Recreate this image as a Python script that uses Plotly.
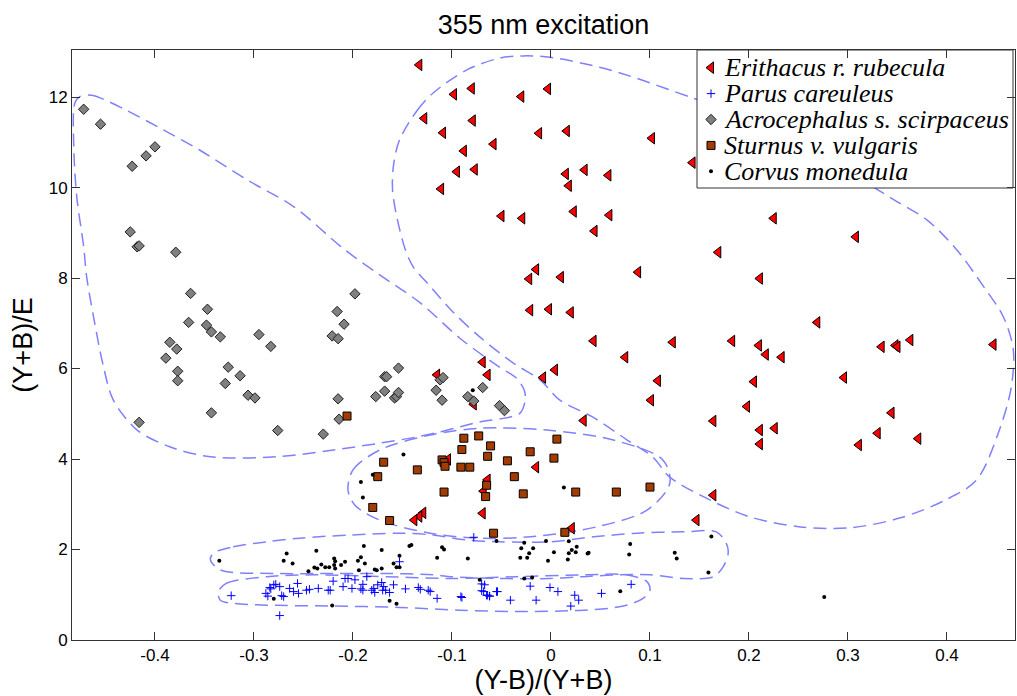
import plotly.graph_objects as go

# ---- species measurements: x = (Y-B)/(Y+B), y = (Y+B)/E ----
erithacus_x = [-0.133, -0.080, -0.098, -0.003, -0.030, -0.128, -0.079, -0.109, -0.012, 0.016,
               0.102, 0.143, -0.058, -0.088, -0.095, -0.077, -0.111, 0.015, 0.034, 0.058,
               0.018, -0.050, -0.029, 0.023, 0.059, 0.044, 0.225, 0.308, 0.169, -0.015,
               -0.022, 0.010, 0.088, 0.211, -0.021, -0.002, 0.020, 0.269, 0.043, 0.123,
               0.183, 0.210, 0.217, 0.233, 0.075, 0.334, 0.348, 0.350, 0.363, 0.447,
               0.108, 0.205, 0.296, 0.101, 0.198, 0.033, 0.164, 0.211, 0.226, 0.211,
               0.344, 0.330, 0.371, 0.311, 0.004, -0.008, -0.069, -0.064, -0.115, -0.078,
               -0.015, -0.104, -0.064, -0.068, -0.069, -0.129, -0.133, -0.138, 0.021, 0.164,
               0.147]
erithacus_y = [12.71, 12.19, 12.06, 12.18, 12.01, 11.53, 11.48, 11.21, 11.20, 11.25,
               11.09, 10.55, 10.96, 10.81, 10.35, 10.40, 9.97, 10.30, 10.39, 10.27,
               10.04, 9.37, 9.32, 9.47, 9.39, 9.04, 9.32, 8.91, 8.57, 8.19,
               7.98, 8.02, 8.13, 7.99, 7.29, 7.31, 7.24, 7.02, 6.61, 6.58,
               6.61, 6.51, 6.31, 6.25, 6.25, 6.48, 6.51, 6.48, 6.63, 6.53,
               5.73, 5.71, 5.80, 5.30, 5.16, 4.85, 4.84, 4.64, 4.68, 4.33,
               5.02, 4.57, 4.45, 4.31, 5.97, 5.80, 6.14, 5.86, 5.86, 5.21,
               3.82, 3.99, 3.54, 3.29, 2.80, 2.81, 2.73, 2.65, 2.47, 3.20,
               2.65]

parus_x = [-0.078, -0.153, -0.323, -0.274, -0.288, -0.286, -0.284, -0.283, -0.280, -0.278,
           -0.274, -0.272, -0.270, -0.264, -0.260, -0.256, -0.255, -0.247, -0.244, -0.235,
           -0.225, -0.223, -0.220, -0.210, -0.208, -0.205, -0.201, -0.198, -0.192, -0.190,
           -0.190, -0.186, -0.181, -0.179, -0.178, -0.175, -0.171, -0.170, -0.169, -0.167,
           -0.163, -0.159, -0.147, -0.134, -0.132, -0.124, -0.122, -0.115, -0.090, -0.070,
           -0.068, -0.064, -0.062, -0.055, -0.067, -0.070, -0.065, -0.062, -0.054, -0.091,
           -0.041, -0.021, -0.015, -0.001, 0.007, 0.024, 0.028, 0.020, 0.051, 0.081]
parus_y = [2.27, 1.73, 0.98, 0.54, 1.03, 0.97, 1.16, 1.13, 1.22, 1.23,
           1.18, 0.98, 0.96, 1.14, 1.07, 1.25, 1.03, 1.10, 1.12, 1.14,
           1.10, 1.10, 1.30, 1.18, 1.36, 1.36, 1.14, 1.33, 1.13, 1.23,
           1.10, 1.40, 1.10, 1.14, 1.05, 1.22, 1.27, 1.10, 1.18, 1.10,
           1.05, 1.22, 1.13, 1.16, 1.12, 1.10, 1.07, 0.92, 0.94, 1.24,
           1.07, 0.99, 0.97, 1.07, 1.22, 1.09, 0.99, 0.97, 1.07, 0.96,
           0.88, 1.19, 0.88, 1.16, 1.07, 0.99, 0.88, 0.75, 1.03, 1.23]

acro_x = [-0.472, -0.455, -0.423, -0.409, -0.400, -0.425, -0.418, -0.416, -0.379,
          -0.364, -0.366, -0.347, -0.348, -0.343, -0.334, -0.385, -0.378, -0.389, -0.377,
          -0.377, -0.326, -0.329, -0.314, -0.306, -0.299, -0.295, -0.283, -0.343, -0.416,
          -0.276, -0.230, -0.216, -0.209, -0.198, -0.221, -0.215, -0.215, -0.214,
          -0.154, -0.168, -0.166, -0.168, -0.177, -0.158, -0.156, -0.154, -0.116, -0.110,
          -0.112, -0.109, -0.069, -0.084, -0.078, -0.052, -0.047]
acro_y = [11.73, 11.40, 10.47, 10.70, 10.90, 9.02, 8.69, 8.71, 8.57,
          7.66, 7.02, 7.31, 6.96, 6.81, 6.70, 6.58, 6.43, 6.23, 5.94,
          5.73, 6.03, 5.67, 5.84, 5.41, 5.35, 6.75, 6.49, 5.02, 4.81,
          4.63, 4.55, 7.26, 6.98, 7.65, 6.72, 6.66, 5.33, 4.88,
          6.01, 5.82, 5.82, 5.50, 5.38, 5.35, 5.38, 5.47, 5.52, 5.30,
          5.75, 5.80, 5.58, 5.38, 5.28, 5.18, 5.07]

sturnus_x = [-0.206, -0.088, -0.073, -0.061, -0.090, -0.064, -0.021, 0.006, 0.003, -0.044,
             -0.110, -0.108, -0.107, -0.091, -0.082, -0.169, -0.135, -0.175, -0.037, -0.065,
             -0.108, -0.066, -0.028, 0.025, 0.066, 0.100, -0.180, -0.163, -0.058, 0.014]
sturnus_y = [4.95, 4.46, 4.51, 4.29, 4.21, 4.06, 4.16, 4.44, 4.02, 3.96,
             3.98, 3.92, 3.84, 3.82, 3.82, 3.93, 3.76, 3.61, 3.61, 3.42,
             3.27, 3.17, 3.23, 3.27, 3.27, 3.38, 2.93, 2.64, 2.36, 2.38]

corvus_x = [-0.335, -0.267, -0.270, -0.261, -0.237, -0.245, -0.239, -0.236, -0.232, -0.228,
            -0.224, -0.219, -0.218, -0.219, -0.218, -0.212, -0.208, -0.189, -0.192, -0.195,
            -0.188, -0.194, -0.171, -0.178, -0.176, -0.171, -0.153, -0.159, -0.156, -0.153,
            -0.143, -0.141, -0.110, -0.108, -0.115, -0.084, -0.055, -0.072, -0.280, -0.221,
            -0.163, -0.156, -0.027, -0.030, -0.018, -0.022, -0.031, -0.024, -0.005, 0.003,
            -0.003, 0.018, 0.026, 0.021, 0.018, 0.025, 0.017, 0.038, 0.037, 0.080,
            0.079, 0.125, 0.127, 0.162, 0.159, -0.027, -0.019, 0.070, 0.276, -0.149,
            -0.192, -0.190, -0.180, 0.013, -0.079]
corvus_y = [1.75, 1.91, 1.75, 1.69, 1.97, 1.52, 1.60, 1.58, 1.67, 1.61,
            1.61, 1.80, 1.74, 1.66, 1.58, 1.66, 1.73, 2.08, 1.83, 1.75,
            1.69, 1.54, 1.99, 1.56, 1.54, 1.58, 1.86, 1.69, 1.61, 1.61,
            2.08, 2.10, 2.05, 2.00, 1.82, 1.80, 2.19, 1.33, 0.91, 0.76,
            0.87, 0.80, 2.15, 2.03, 2.03, 1.92, 1.82, 1.82, 2.19, 1.94,
            1.75, 2.18, 2.06, 1.99, 1.92, 1.94, 1.78, 1.93, 1.91, 2.12,
            1.89, 1.93, 1.80, 2.29, 1.49, 1.36, 1.38, 1.08, 0.95, 4.10,
            3.49, 3.15, 3.65, 3.37, 5.52]

# ---- hand-drawn group outlines (data coordinates) ----
acro_hull_x = [-0.476, -0.464, -0.454, -0.429, -0.397, -0.355, -0.307, -0.260, -0.208, -0.173,
               -0.132, -0.092, -0.052, -0.035, -0.027, -0.026, -0.031, -0.041, -0.072, -0.092,
               -0.112, -0.135, -0.173, -0.220, -0.277, -0.344, -0.385, -0.418, -0.442, -0.452,
               -0.462, -0.469, -0.472, -0.479, -0.482, -0.481, -0.476]
acro_hull_y = [12.01, 12.04, 11.97, 11.71, 11.34, 10.83, 10.17, 9.58, 8.62, 8.07,
               7.45, 6.67, 6.03, 5.79, 5.52, 5.30, 5.02, 4.93, 4.82, 4.71,
               4.60, 4.49, 4.35, 4.20, 4.05, 4.05, 4.27, 4.64, 5.30, 6.04,
               7.14, 8.03, 8.69, 9.80, 10.90, 11.86, 12.01]

eri_hull_x = [-0.153, -0.135, -0.119, -0.085, -0.052, -0.028, -0.001, 0.049, 0.083, 0.143,
              0.201, 0.272, 0.322, 0.347, 0.380, 0.410, 0.437, 0.457, 0.467, 0.465,
              0.454, 0.430, 0.398, 0.353, 0.302, 0.252, 0.201, 0.161, 0.120, 0.103,
              0.077, 0.042, 0.009, -0.011, -0.038, -0.072, -0.099, -0.125, -0.139, -0.147,
              -0.155, -0.160, -0.159, -0.153]
eri_hull_y = [11.05, 11.71, 12.09, 12.60, 12.86, 12.91, 12.88, 12.66, 12.44, 11.98,
              11.54, 10.72, 10.06, 9.72, 9.28, 8.62, 7.81, 7.14, 6.41, 5.60,
              4.71, 3.54, 3.09, 2.70, 2.48, 2.50, 2.72, 3.09, 3.60, 4.04,
              4.42, 4.93, 5.30, 5.75, 6.12, 6.70, 7.25, 7.89, 8.24, 8.62,
              9.28, 9.94, 10.50, 11.05]

stu_hull_x = [-0.205, -0.200, -0.173, -0.122, -0.072, -0.004, 0.063, 0.113, 0.120, 0.097,
              0.046, -0.021, -0.072, -0.122, -0.173, -0.198, -0.205]
stu_hull_y = [3.31, 3.76, 4.20, 4.53, 4.68, 4.64, 4.42, 3.98, 3.46, 2.87,
              2.50, 2.28, 2.25, 2.36, 2.65, 2.98, 3.31]

cor_hull_x = [-0.341, -0.321, -0.287, -0.254, -0.203, -0.153, -0.119, -0.085, -0.052, -0.001,
              0.043, 0.087, 0.134, 0.167, 0.177, 0.179, 0.174, 0.164, 0.134, 0.100,
              0.066, 0.033, -0.001, -0.052, -0.102, -0.119, -0.166, -0.220, -0.277, -0.334,
              -0.344, -0.341]
cor_hull_y = [1.92, 2.06, 2.17, 2.25, 2.32, 2.36, 2.32, 2.21, 2.17, 2.17,
              2.28, 2.36, 2.39, 2.39, 2.14, 1.92, 1.62, 1.40, 1.36, 1.44,
              1.44, 1.40, 1.36, 1.36, 1.40, 1.44, 1.47, 1.47, 1.47, 1.55,
              1.77, 1.92]

par_hull_x = [-0.336, -0.328, -0.287, -0.237, -0.153, -0.102, -0.035, 0.033, 0.076, 0.097,
              0.100, 0.093, 0.073, 0.033, -0.035, -0.092, -0.153, -0.220, -0.287, -0.321,
              -0.334, -0.336]
par_hull_y = [1.07, 1.25, 1.40, 1.44, 1.39, 1.36, 1.40, 1.44, 1.44, 1.29,
              1.10, 0.92, 0.75, 0.66, 0.63, 0.66, 0.72, 0.75, 0.77, 0.81,
              0.88, 1.07]

x_ticks = [-0.4, -0.3, -0.2, -0.1, 0, 0.1, 0.2, 0.3, 0.4]
x_tick_text = ["-0.4", "-0.3", "-0.2", "-0.1", "0", "0.1", "0.2", "0.3", "0.4"]
y_ticks = [0, 2, 4, 6, 8, 10, 12]

species_names = ["Erithacus r. rubecula", "Parus careuleus", "Acrocephalus s. scirpaceus",
                 "Sturnus v. vulgaris", "Corvus monedula"]

# ---- figure geometry (pixels) ----
W, H = 1017, 696
M_L, M_R, M_T, M_B = 72, 2, 50, 56
PLOT_W = W - M_L - M_R
PLOT_H = H - M_T - M_B


def px_to_frac_x(px):
    return (px - M_L) / PLOT_W


def px_to_frac_y(py):
    return (H - M_B - py) / PLOT_H


markers = [
    dict(symbol="triangle-left", size=10, color="#ff0000", line=dict(color="#000000", width=1)),
    dict(symbol="cross-thin", size=6, color="#0000ff", line=dict(color="#0000ff", width=1)),
    dict(symbol="diamond", size=8, color="#808080", line=dict(color="#202020", width=1)),
    dict(symbol="square", size=8, color="#a33c00", line=dict(color="#000000", width=1)),
    dict(symbol="circle", size=4, color="#000000", line=dict(width=0)),
]

fig = go.Figure()

hull_line = dict(color="#8080ff", width=1.5, dash="13px,7px", shape="spline", smoothing=0.9)
for hx, hy in [(acro_hull_x, acro_hull_y), (eri_hull_x, eri_hull_y), (stu_hull_x, stu_hull_y),
               (cor_hull_x, cor_hull_y), (par_hull_x, par_hull_y)]:
    fig.add_trace(go.Scatter(x=hx, y=hy, mode="lines", line=hull_line,
                             showlegend=False, hoverinfo="skip"))

series = [(erithacus_x, erithacus_y), (parus_x, parus_y), (acro_x, acro_y),
          (sturnus_x, sturnus_y), (corvus_x, corvus_y)]
for (sx, sy), name, mk in zip(series, species_names, markers):
    fig.add_trace(go.Scatter(x=sx, y=sy, mode="markers", name=name, marker=mk,
                             showlegend=False))

# ---- legend box drawn on an overlay axis spanning the plot area ----
box_l, box_r = px_to_frac_x(697), px_to_frac_x(1013)
box_t, box_b = px_to_frac_y(50), px_to_frac_y(188)
fig.add_trace(go.Scatter(
    x=[box_l, box_r, box_r, box_l, box_l], y=[box_b, box_b, box_t, box_t, box_b],
    mode="lines", fill="toself", fillcolor="white",
    line=dict(color="#333333", width=1), xaxis="x2", yaxis="y2",
    showlegend=False, hoverinfo="skip"))

row0, row_step = 67.7, 25.9
sym_x = px_to_frac_x(711)
txt_x = px_to_frac_x(722)
annotations = []
for i, (name, mk) in enumerate(zip(species_names, markers)):
    ry = px_to_frac_y(row0 + row_step * i)
    fig.add_trace(go.Scatter(x=[sym_x], y=[ry], mode="markers", marker=mk,
                             xaxis="x2", yaxis="y2", showlegend=False, hoverinfo="skip"))
    annotations.append(dict(
        x=txt_x, y=ry, xref="paper", yref="paper", xanchor="left", yanchor="middle",
        text="<i>" + name + "</i>", showarrow=False,
        font=dict(family="Liberation Serif, Times New Roman, serif", size=26, color="#000000")))

axis_common = dict(
    showline=True, linecolor="#333333", linewidth=1, mirror="ticks",
    ticks="inside", ticklen=8, tickcolor="#333333", tickwidth=1,
    showgrid=False, zeroline=False,
    tickfont=dict(family="Liberation Sans, Arial, sans-serif", size=17, color="#000000"),
)
sans = "Liberation Sans, Arial, sans-serif"

fig.update_layout(
    width=W, height=H,
    margin=dict(l=M_L, r=M_R, t=M_T, b=M_B),
    paper_bgcolor="white", plot_bgcolor="white",
    title=dict(text="355 nm excitation", x=0.5, xref="paper", y=1 - 25 / H, yref="container",
               yanchor="middle", font=dict(family=sans, size=27, color="#000000")),
    xaxis=dict(range=[-0.4838, 0.4687], tickvals=x_ticks, ticktext=x_tick_text,
               title=dict(text="(Y-B)/(Y+B)", standoff=3,
                          font=dict(family=sans, size=27, color="#000000")),
               **axis_common),
    yaxis=dict(range=[0, 13.04], tickvals=y_ticks,
               title=dict(text="(Y+B)/E", standoff=8,
                          font=dict(family=sans, size=27, color="#000000")),
               **axis_common),
    xaxis2=dict(overlaying="x", anchor="y2", range=[0, 1], visible=False, fixedrange=True),
    yaxis2=dict(overlaying="y", anchor="x2", range=[0, 1], visible=False, fixedrange=True),
    annotations=annotations,
    showlegend=False,
)

fig.write_html("out.html")
